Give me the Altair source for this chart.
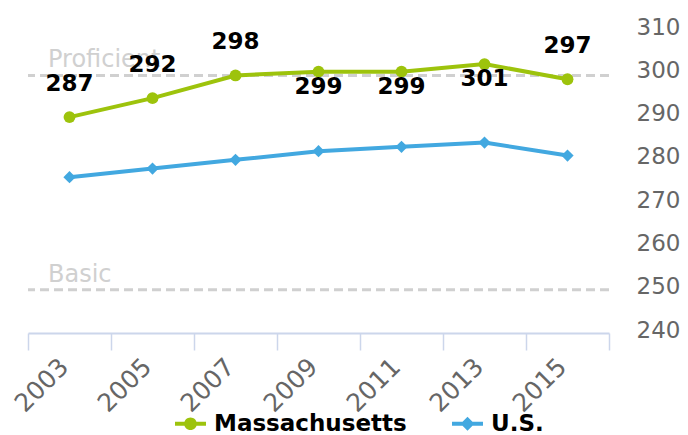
import altair as alt
import pandas as pd

# ---- data ----
years = ["2003", "2005", "2007", "2009", "2011", "2013", "2015"]
ma_scores = [287, 292, 298, 299, 299, 301, 297]
us_scores = [276, 278, 280, 282, 283, 284, 281]
ma_label_side = ["above", "above", "above", "below", "below", "below", "above"]
band_names = ["Proficient", "Basic"]
band_values = [299.5, 250]
series_names = ["Massachusetts", "U.S."]

GREEN = "#9DC30C"
BLUE = "#42A8E0"
FONT = "DejaVu Sans"

ma_df = pd.DataFrame({"year": years, "score": ma_scores, "series": series_names[0], "side": ma_label_side})
us_df = pd.DataFrame({"year": years, "score": us_scores, "series": series_names[1]})
band_df = pd.DataFrame({"name": band_names, "value": band_values})
legend_df = pd.DataFrame({"series": series_names})

vis_scale = alt.Scale(domain=[240, 310], nice=False, zero=False)
ma_scale = alt.Scale(domain=[230, 310], nice=False, zero=False)

x_enc = alt.X(
    "year:N",
    sort=years,
    scale=alt.Scale(paddingInner=0, paddingOuter=0),
    axis=alt.Axis(
        title=None,
        tickBand="extent",
        domainColor="#ccd6eb",
        domainWidth=2,
        tickColor="#ccd6eb",
        tickWidth=1.5,
        tickSize=17,
        labelAngle=-45,
        labelAlign="right",
        labelBaseline="alphabetic",
        labelPadding=18,
        labelFont=FONT,
        labelFontSize=25,
        labelColor="#666666",
        grid=False,
    ),
)

circle_path = "M-1,-0.13L1,-0.13L1,0.13L-1,0.13Z M0.41,0A0.41,0.41,0,1,1,-0.41,0A0.41,0.41,0,1,1,0.41,0Z"
diamond_path = "M-1,-0.13L1,-0.13L1,0.13L-1,0.13Z M0,-0.45L0.45,0L0,0.45L-0.45,0Z"

color_scale = alt.Scale(domain=series_names, range=[GREEN, BLUE])

legend = alt.Legend(
    orient="none",
    legendX=147,
    legendY=378,
    direction="horizontal",
    title=None,
    padding=0,
    symbolSize=960,
    symbolStrokeWidth=0,
    symbolOpacity=1,
    labelFont=FONT,
    labelFontSize=23,
    labelFontWeight="bold",
    labelColor="#000000",
    labelOffset=8,
    labelLimit=400,
    columnPadding=45,
)

# reference bands
bands = alt.Chart(band_df).mark_rule(color="#d0d0d0", strokeWidth=3, strokeDash=[9, 5]).encode(
    y=alt.Y("value:Q", scale=vis_scale, axis=None)
)
band_text = alt.Chart(band_df).mark_text(
    align="left", baseline="alphabetic", dy=-8, font=FONT, fontSize=24, color="#d0d0d0"
).encode(
    x=alt.value(20),
    y=alt.Y("value:Q", scale=vis_scale, axis=None),
    text="name:N",
)

us_line = alt.Chart(us_df).mark_line(strokeWidth=4, color=BLUE).encode(
    x=x_enc,
    y=alt.Y(
        "score:Q",
        scale=vis_scale,
        axis=alt.Axis(
            orient="right",
            title=None,
            values=[240, 250, 260, 270, 280, 290, 300, 310],
            domain=False,
            ticks=False,
            grid=False,
            labelPadding=27,
            labelAlign="left",
            labelFont=FONT,
            labelFontSize=23,
            labelColor="#666666",
            labelOffset=-3,
        ),
    ),
)
us_pts = alt.Chart(us_df).mark_point(filled=True, shape="diamond", size=150, opacity=1, color=BLUE).encode(
    x=x_enc, y=alt.Y("score:Q", scale=vis_scale, axis=None)
)

ma_line = alt.Chart(ma_df).mark_line(strokeWidth=4, color=GREEN).encode(
    x=x_enc, y=alt.Y("score:Q", scale=ma_scale, axis=None)
)
ma_pts = alt.Chart(ma_df).mark_point(filled=True, shape="circle", size=140, opacity=1, color=GREEN).encode(
    x=x_enc, y=alt.Y("score:Q", scale=ma_scale, axis=None)
)
ma_above = alt.Chart(ma_df).transform_filter(alt.datum.side == "above").mark_text(
    baseline="middle", dy=-33, font=FONT, fontSize=23, fontWeight="bold", color="#000000"
).encode(x=x_enc, y=alt.Y("score:Q", scale=ma_scale, axis=None), text="score:Q")
ma_below = alt.Chart(ma_df).transform_filter(alt.datum.side == "below").mark_text(
    baseline="middle", dy=15, font=FONT, fontSize=23, fontWeight="bold", color="#000000"
).encode(x=x_enc, y=alt.Y("score:Q", scale=ma_scale, axis=None), text="score:Q")

# legend-only layer (no visible marks): line + marker symbols
legend_layer = alt.Chart(legend_df).transform_filter("false").mark_point(
    filled=True, size=960, opacity=1, strokeWidth=0
).encode(
    color=alt.Color("series:N", scale=color_scale, legend=legend),
    shape=alt.Shape("series:N", scale=alt.Scale(domain=series_names, range=[circle_path, diamond_path]), legend=legend),
)

chart = (
    alt.layer(legend_layer, bands, band_text, us_line, us_pts, ma_line, ma_pts, ma_above, ma_below)
    .resolve_scale(y="independent")
    .properties(
        width=581,
        height=303,
        autosize=alt.AutoSizeParams(type="none"),
        padding={"left": 20, "top": 22, "right": 71, "bottom": 102},
    )
    .configure_view(stroke=None)
)

chart.save("out.html", embed_options={"renderer": "svg", "actions": False})
